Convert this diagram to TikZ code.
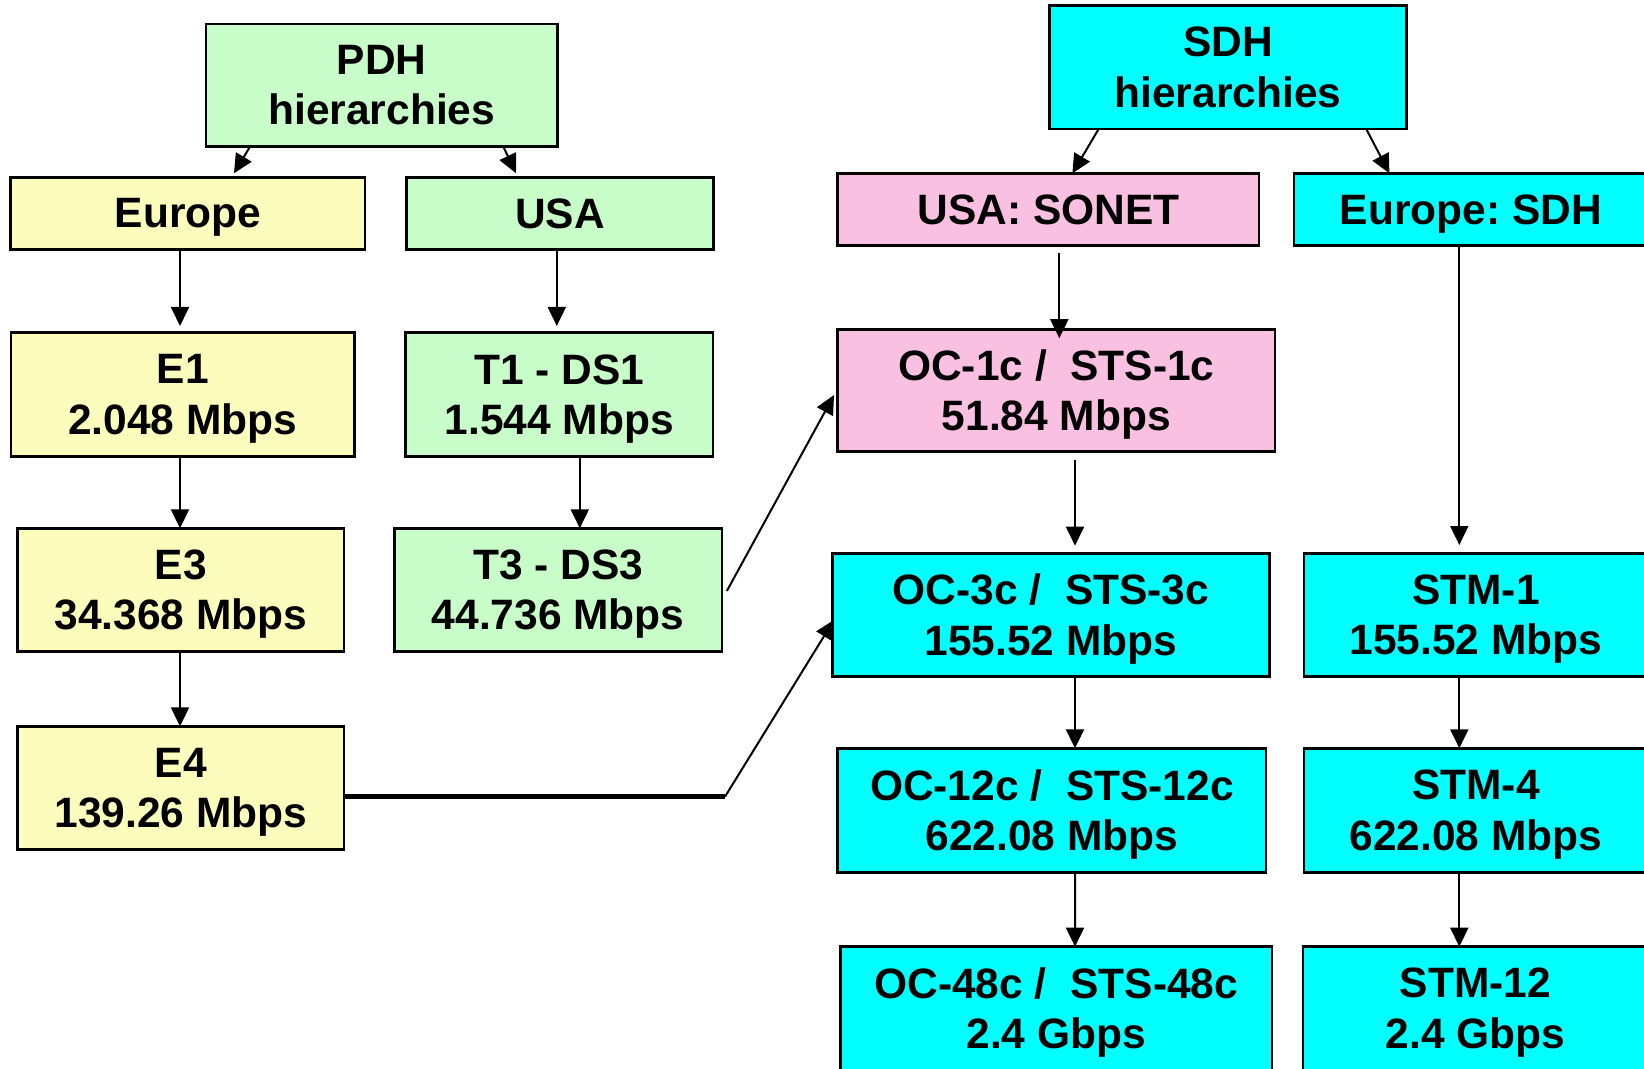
\documentclass[tikz,border=0pt]{standalone}
\usepackage{fontspec}
\setmainfont{Liberation Sans}
\usetikzlibrary{arrows.meta,calc}

\definecolor{paleyellow}{RGB}{252,252,188}
\definecolor{palegreen}{RGB}{200,252,200}
\definecolor{palepink}{RGB}{250,192,226}
\definecolor{brightcyan}{RGB}{0,255,255}

\begin{document}
\frenchspacing
\begin{tikzpicture}[x=0.5pt,y=-0.5pt,
  box/.style={draw=black, line width=1.3pt, inner sep=0pt, outer sep=0pt,
    align=center, text depth=0.3pt,
    font=\fontsize{21.25pt}{25.2pt}\selectfont\bfseries},
  sz/.style 2 args={minimum width=#1*0.5pt, minimum height=#2*0.5pt},
  eu/.style={box, fill=paleyellow},
  us/.style={box, fill=palegreen},
  sonetbox/.style={box, fill=palepink},
  sdhbox/.style={box, fill=brightcyan},
  arr/.style={line width=1pt, -{Triangle[length=9.5pt,width=9pt]}},
  heavy/.style={line width=2.7pt},
]
\useasboundingbox (0,0) rectangle (1644,1069);
\clip (0,0) rectangle (1644,1069);

% PDH side
\node[us, sz={351.4}{122.7}] (pdh) at (381.7,85.3) {PDH\\hierarchies};
\node[eu, sz={354.3}{71.7}] (europe) at (187.9,213.5) {Europe};
\node[us, sz={307.3}{71.7}] (usa) at (559.9,213.5) {USA};
\node[eu, sz={343.4}{124}] (e1) at (182.7,394.7) {E1\\2.048 Mbps};
\node[us, sz={307.7}{124}] (t1) at (559.3,394.7) {T1 - DS1\\1.544 Mbps};
\node[eu, sz={326.4}{123.4}] (e3) at (180.8,590) {E3\\34.368 Mbps};
\node[us, sz={327.5}{123.4}] (t3) at (558.2,590) {T3 - DS3\\44.736 Mbps};
\node[eu, sz={326.4}{123.4}] (e4) at (180.8,788) {E4\\139.26 Mbps};

% SDH side
\node[sdhbox, sz={357.4}{123.3}] (sdh) at (1227.9,67.3) {SDH\\hierarchies};
\node[sonetbox, sz={421.3}{72.4}] (sonet) at (1048.4,209.5) {USA: SONET};
\node[sdhbox, sz={354}{72.4}] (eursdh) at (1471,209.5) {Europe: SDH};
\node[sonetbox, sz={437.3}{122.5}] (oc1) at (1056.4,390.5) {OC-1c /\ \ STS-1c\\51.84 Mbps};
\node[sdhbox, sz={437.4}{122.8}] (oc3) at (1051,614.9) {OC-3c /\ \ STS-3c\\155.52 Mbps};
\node[sdhbox, sz={344}{122.8}] (stm1) at (1476,614.9) {STM-1\\155.52 Mbps};
\node[sdhbox, sz={428.3}{124}] (oc12) at (1051.9,810.3) {OC-12c /\ \ STS-12c\\622.08 Mbps};
\node[sdhbox, sz={344}{124}] (stm4) at (1476,810.3) {STM-4\\622.08 Mbps};
\node[sdhbox, sz={431.6}{123.3}] (oc48) at (1056.2,1008.3) {OC-48c /\ \ STS-48c\\2.4 Gbps};
\node[sdhbox, sz={345}{123.3}] (stm12) at (1475.5,1008.3) {STM-12\\2.4 Gbps};

% PDH connectors
\draw[arr] ($(pdh.south)+(-131.7,0)$) -- ($(europe.north)+(46.1,-4.4)$);
\draw[arr] ($(pdh.south)+(121.6,0)$) -- ($(usa.north)+(-43.9,-4.4)$);
\draw[arr] ($(europe.south)+(-7.9,0)$) -- ($(e1.north)+(-2.7,-6.7)$);
\draw[arr] ($(usa.south)+(-3.1,0)$) -- ($(t1.north)+(-2.5,-6.7)$);
\draw[arr] ($(e1.south)+(-2.7,0)$) -- ($(e3.north)+(-0.8,0)$);
\draw[arr] ($(t1.south)+(20.5,0)$) -- ($(t3.north)+(21.6,0)$);
\draw[arr] ($(e3.south)+(-0.8,0)$) -- ($(e4.north)+(-0.8,0)$);

% PDH to SDH mappings
\coordinate (bend) at (725,796.7);
\draw[heavy] ($(e4.east)+(0,8.7)$) -- (bend);
\draw[arr] (bend) -- ($(oc3.west)+(1.7,5.1)$);
\draw[arr] ($(t3.east)+(4.9,1)$) -- ($(oc1.west)+(-3.7,4.5)$);

% SDH connectors
\draw[arr] ($(sdh.south)+(-129.2,0)$) -- ($(sonet.north)+(24,0)$);
\draw[arr] ($(sdh.south)+(138.3,0)$) -- ($(eursdh.north)+(-81.6,0)$);
\draw[arr] ($(sonet.south)+(10.9,7)$) -- ($(oc1.north)+(2.9,9)$);
\draw[arr] ($(oc1.south)+(18.6,8.3)$) -- ($(oc3.north)+(24,-7.8)$);
\draw[arr] ($(eursdh.south)+(-11.7,0)$) -- ($(stm1.north)+(-16.7,-8.5)$);
\draw[arr] ($(oc3.south)+(24,0)$) -- ($(oc12.north)+(23.1,0)$);
\draw[arr] ($(stm1.south)+(-16.7,0)$) -- ($(stm4.north)+(-16.7,0)$);
\draw[arr] ($(oc12.south)+(23.1,0)$) -- ($(oc48.north)+(18.8,0)$);
\draw[arr] ($(stm4.south)+(-16.7,0)$) -- ($(stm12.north)+(-16.2,0)$);
\end{tikzpicture}
\end{document}
